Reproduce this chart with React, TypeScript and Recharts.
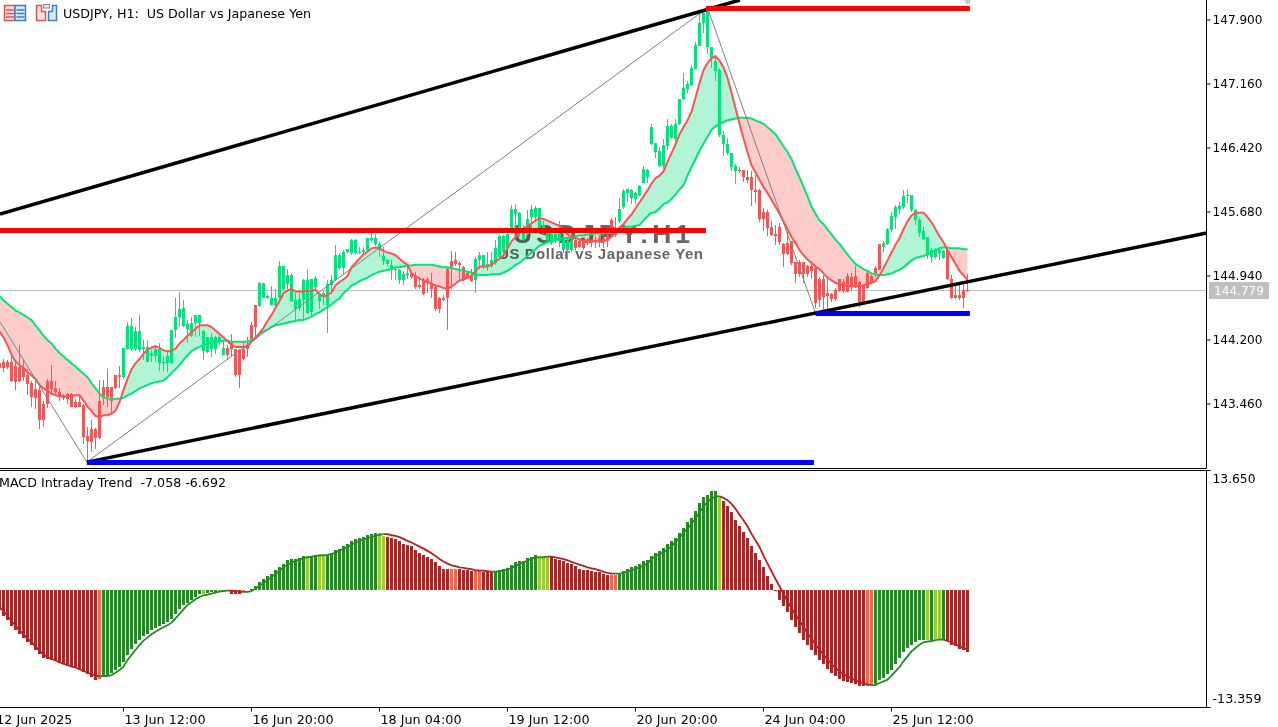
import { Area, Bar, Cell, ComposedChart, Line, ReferenceDot, ReferenceLine, XAxis, YAxis } from 'recharts';

// high, body top, body bottom, low for every H1 bar on screen
const candles: number[][] = [
  [144.00,143.93,143.88,143.83],[143.98,143.95,143.88,143.83],[143.97,143.94,143.89,143.87],[144.03,143.94,143.73,143.71],
  [143.97,143.90,143.71,143.62],[144.14,143.89,143.72,143.71],[143.97,143.88,143.77,143.73],[143.87,143.79,143.69,143.56],
  [143.73,143.70,143.54,143.43],[143.73,143.63,143.53,143.40],[143.66,143.62,143.27,143.17],[143.50,143.46,143.27,143.19],
  [143.75,143.73,143.46,143.41],[143.91,143.73,143.63,143.56],[143.73,143.65,143.60,143.56],[143.64,143.60,143.54,143.50],
  [143.58,143.55,143.53,143.51],[143.59,143.57,143.52,143.46],[143.59,143.57,143.43,143.43],[143.52,143.48,143.42,143.41],
  [143.56,143.48,143.43,143.42],[143.46,143.45,143.08,143.00],[143.19,143.09,143.03,142.79],[143.27,143.17,143.02,142.90],
  [143.18,143.17,143.07,142.94],[143.74,143.50,143.07,143.06],[143.74,143.66,143.53,143.45],[143.87,143.66,143.54,143.43],
  [143.66,143.66,143.50,143.35],[143.79,143.79,143.64,143.63],[143.90,143.79,143.77,143.64],[144.11,144.11,143.77,143.75],
  [144.41,144.36,144.10,144.08],[144.45,144.36,144.10,144.07],[144.35,144.30,144.10,144.07],[144.49,144.30,144.08,144.06],
  [144.20,144.12,144.10,143.97],[144.20,144.12,143.95,143.95],[144.08,144.05,144.02,143.95],[144.14,144.09,144.02,143.95],
  [144.16,144.09,143.93,143.84],[144.02,143.95,143.93,143.84],[144.06,144.02,143.93,143.83],[144.32,144.32,143.93,143.92],
  [144.68,144.47,144.31,144.22],[144.75,144.56,144.47,144.35],[144.66,144.57,144.36,144.35],[144.43,144.38,144.33,144.16],
  [144.47,144.40,144.25,144.23],[144.49,144.49,144.40,144.23],[144.49,144.49,144.40,144.25],[144.31,144.30,144.07,143.97],
  [144.23,144.23,144.06,144.05],[144.28,144.23,144.10,144.00],[144.25,144.24,144.10,144.04],[144.27,144.24,144.18,144.14],
  [144.20,144.11,144.03,144.03],[144.14,144.11,144.03,143.97],[144.27,144.18,144.10,144.02],[144.10,144.10,143.79,143.77],
  [144.10,144.08,143.79,143.65],[144.18,144.10,143.98,143.97],[144.23,144.14,144.10,144.00],
  [144.41,144.37,144.20,144.19],[144.60,144.60,144.35,144.22],[144.87,144.86,144.59,144.58],[144.86,144.86,144.69,144.68],
  [144.72,144.71,144.68,144.67],[144.82,144.69,144.61,144.60],[144.79,144.68,144.61,144.58],[145.11,145.06,144.68,144.66],
  [145.06,145.06,144.79,144.77],[145.02,144.95,144.85,144.75],[144.97,144.95,144.65,144.64],[144.74,144.66,144.56,144.41],
  [144.74,144.67,144.57,144.54],[144.90,144.89,144.66,144.43],[145.02,144.89,144.51,144.50],[144.91,144.90,144.52,144.47],
  [144.94,144.92,144.81,144.79],[144.72,144.72,144.65,144.56],[144.77,144.74,144.70,144.60],[144.89,144.85,144.60,144.28],
  [144.95,144.89,144.83,144.73],[145.30,145.18,144.89,144.88],[145.20,145.18,145.03,145.01],[145.24,145.22,145.03,144.95],
  [145.25,145.25,145.22,145.21],[145.37,145.36,145.20,145.18],[145.37,145.36,145.21,145.19],[145.27,145.22,145.21,145.19],
  [145.27,145.24,145.22,145.18],[145.38,145.38,145.24,145.22],[145.44,145.38,145.36,145.32],[145.43,145.38,145.31,145.29],
  [145.33,145.31,145.24,145.16],[145.27,145.17,145.11,145.07],[145.14,145.13,145.08,145.06],[145.13,145.07,145.01,144.89],
  [145.06,145.02,145.01,144.89],[145.02,145.01,144.89,144.85],[145.00,144.96,144.89,144.84],[145.06,144.97,144.95,144.91],
  [145.00,144.97,144.93,144.91],[144.99,144.94,144.81,144.79],[144.93,144.84,144.81,144.79],[144.92,144.88,144.73,144.72],
  [144.93,144.90,144.86,144.74],[144.97,144.86,144.79,144.68],[144.83,144.81,144.56,144.54],[144.70,144.69,144.56,144.51],
  [144.72,144.69,144.66,144.65],[145.04,145.02,144.69,144.31],[145.23,145.11,145.04,144.79],[145.22,145.12,145.08,145.05],
  [145.11,145.09,145.07,144.90],[145.06,145.04,144.89,144.88],[144.99,144.97,144.92,144.90],[145.02,144.95,144.88,144.87],
  [145.16,145.14,144.89,144.74],[145.22,145.18,145.13,145.02],[145.18,145.18,145.04,145.02],[145.22,145.08,145.04,145.00],
  [145.22,145.13,145.05,145.03],[145.36,145.26,145.09,145.07],[145.41,145.40,145.16,145.16],[145.41,145.40,145.22,145.16],
  [145.49,145.43,145.26,145.24],[145.76,145.71,145.47,145.45],[145.77,145.72,145.66,145.45],[145.68,145.67,145.45,145.39],
  [145.53,145.49,145.36,145.34],[145.70,145.60,145.43,145.41],[145.76,145.71,145.62,145.45],[145.75,145.73,145.62,145.59],
  [145.73,145.73,145.51,145.45],[145.57,145.53,145.45,145.43],[145.49,145.45,145.36,145.34],[145.45,145.42,145.32,145.30],
  [145.44,145.42,145.34,145.32],[145.57,145.45,145.34,145.28],[145.43,145.36,145.24,145.20],[145.37,145.35,145.24,145.12],
  [145.37,145.34,145.24,145.22],[145.41,145.36,145.26,145.24],[145.36,145.34,145.28,145.26],[145.36,145.34,145.26,145.24],
  [145.38,145.36,145.32,145.30],[145.36,145.35,145.32,145.28],[145.40,145.36,145.33,145.26],[145.41,145.38,145.33,145.28],
  [145.41,145.37,145.33,145.26],[145.45,145.41,145.34,145.28],[145.61,145.59,145.43,145.39],[145.62,145.48,145.41,145.39],
  [145.84,145.72,145.57,145.55],[145.94,145.92,145.74,145.72],[145.95,145.94,145.90,145.80],[145.95,145.93,145.84,145.77],
  [145.91,145.90,145.83,145.77],[145.99,145.98,145.88,145.86],[146.21,146.18,146.02,146.01],[146.18,146.17,146.08,146.01],
  [146.70,146.66,146.47,146.45],[146.48,146.48,146.37,146.30],[146.43,146.38,146.21,146.20],[146.52,146.45,146.21,146.18],
  [146.76,146.67,146.44,146.40],[146.70,146.67,146.54,146.52],[146.76,146.70,146.52,146.49],
  [146.99,146.99,146.70,146.68],[147.29,147.11,146.99,146.97],[147.20,147.16,147.10,147.05],[147.38,147.34,147.15,147.14],
  [147.64,147.61,147.33,147.33],[147.98,147.87,147.60,147.60],[148.00,147.98,147.87,147.75],[148.01,148.00,147.59,147.51],
  [147.59,147.59,147.46,147.34],[147.49,147.43,147.31,147.19],[147.34,147.32,146.57,146.55],[146.62,146.57,146.47,146.33],
  [146.53,146.47,146.36,146.34],[146.36,146.36,146.20,146.15],[146.24,146.21,146.15,146.00],[146.20,146.16,146.15,146.13],
  [146.16,146.16,146.08,146.03],[146.16,146.08,146.05,146.02],[146.15,146.08,145.93,145.75],[146.11,145.93,145.91,145.78],
  [145.95,145.93,145.60,145.56],[145.73,145.68,145.60,145.46],[145.70,145.68,145.50,145.40],[145.57,145.51,145.41,145.40],
  [145.53,145.42,145.40,145.30],[145.55,145.51,145.33,145.30],[145.32,145.31,145.19,145.04],[145.45,145.32,145.19,145.18],
  [145.35,145.34,145.09,145.07],[145.10,145.10,144.96,144.86],[145.12,145.10,144.96,144.93],[145.10,145.10,144.96,144.86],
  [145.07,145.06,144.96,144.93],[145.11,145.06,145.00,144.91],[145.07,145.03,144.63,144.57],[144.93,144.90,144.66,144.58],
  [144.95,144.91,144.70,144.55],[144.91,144.74,144.71,144.55],[144.74,144.73,144.67,144.64],[144.80,144.78,144.67,144.65],
  [144.91,144.90,144.77,144.76],[144.91,144.87,144.77,144.74],[144.97,144.94,144.76,144.76],[144.97,144.93,144.82,144.77],
  [145.05,144.94,144.82,144.80],[144.88,144.87,144.64,144.58],[144.84,144.84,144.64,144.63],[144.99,144.97,144.80,144.79],
  [144.97,144.94,144.86,144.85],[145.05,145.03,144.95,144.93],[145.31,145.31,145.01,145.01],[145.35,145.32,145.28,145.22],
  [145.50,145.48,145.31,145.30],[145.68,145.63,145.47,145.45],[145.76,145.74,145.62,145.48],[145.80,145.75,145.72,145.66],
  [145.93,145.86,145.74,145.72],[145.95,145.88,145.86,145.78],[145.88,145.88,145.70,145.68],[145.72,145.70,145.59,145.53],
  [145.61,145.59,145.44,145.39],[145.51,145.46,145.37,145.36],[145.39,145.39,145.19,145.14],[145.26,145.24,145.16,145.09],
  [145.26,145.25,145.16,145.14],[145.26,145.24,145.20,145.12],[145.24,145.23,145.15,145.14],[145.26,145.24,144.91,144.89],
  [144.95,144.91,144.68,144.67],[144.84,144.72,144.68,144.67],[144.84,144.72,144.68,144.66],[144.84,144.78,144.68,144.57],
  [144.96,144.78,144.77,144.76],
];

const fastMa = [
  144.30,144.23,144.14,144.03,143.95,143.91,143.88,143.83,143.79,143.75,143.68,143.64,143.61,143.58,143.56,143.55,143.55,143.55,143.55,143.56,143.56,
  143.50,143.43,143.38,143.32,143.31,143.33,143.33,143.35,143.38,143.48,143.62,143.75,143.86,143.93,143.98,144.04,144.09,144.11,144.13,144.11,144.08,
  144.07,144.07,144.10,144.16,144.20,144.25,144.29,144.33,144.37,144.37,144.37,144.35,144.31,144.27,144.23,144.19,144.14,144.12,144.12,144.12,144.12,
  144.18,144.22,144.28,144.34,144.42,144.49,144.57,144.65,144.74,144.77,144.79,144.76,144.76,144.76,144.77,144.77,144.78,144.73,144.70,144.72,
  144.75,144.83,144.87,144.90,144.94,145.04,145.09,145.14,145.19,145.22,145.26,145.27,145.26,145.23,145.21,145.20,145.18,145.14,145.10,145.07,
  144.97,144.94,144.91,144.89,144.87,144.85,144.83,144.82,144.80,144.79,144.82,144.85,144.89,144.90,144.92,144.94,144.99,145.05,145.05,145.05,
  145.07,145.11,145.14,145.18,145.26,145.34,145.39,145.45,145.49,145.52,145.55,145.58,145.61,145.60,145.58,145.56,145.54,145.52,145.47,145.42,145.39,
  145.38,145.36,145.35,145.35,145.35,145.34,145.34,145.34,145.36,145.39,145.44,145.50,145.54,145.60,145.65,145.72,145.79,145.86,145.93,146.01,146.07,146.10,146.15,
  146.26,146.36,146.46,146.58,146.66,146.74,146.84,147.00,147.17,147.32,147.40,147.46,147.48,147.43,147.35,147.23,147.06,146.88,146.70,146.53,
  146.37,146.22,146.14,146.05,145.97,145.90,145.82,145.74,145.66,145.57,145.48,145.39,145.32,145.24,145.18,145.13,145.09,145.05,145.02,
  144.97,144.92,144.89,144.86,144.84,144.83,144.82,144.82,144.82,144.82,144.83,144.85,144.86,144.88,144.95,145.03,145.12,145.21,145.30,145.38,
  145.48,145.57,145.64,145.67,145.67,145.67,145.62,145.56,145.48,145.40,145.33,145.24,145.16,145.08,145.00,144.95,144.89,
];

const slowMa = [
  144.71,144.66,144.62,144.58,144.54,144.52,144.49,144.46,144.43,144.37,144.31,144.25,144.20,144.16,144.10,144.05,144.01,143.97,143.93,143.89,143.85,
  143.81,143.77,143.70,143.64,143.58,143.54,143.52,143.52,143.52,143.52,143.53,143.56,143.58,143.61,143.64,143.66,143.68,143.70,143.71,143.72,143.73,
  143.77,143.82,143.86,143.91,143.97,144.02,144.07,144.10,144.12,144.14,144.16,144.17,144.18,144.18,144.19,144.19,144.18,144.18,144.18,144.18,144.18,
  144.20,144.23,144.27,144.30,144.32,144.35,144.37,144.38,144.39,144.40,144.41,144.42,144.43,144.43,144.45,144.47,144.50,144.52,144.55,144.58,
  144.61,144.65,144.68,144.74,144.78,144.83,144.85,144.88,144.90,144.92,144.95,144.97,144.99,145.00,145.01,145.02,145.04,145.04,145.05,145.06,
  145.06,145.07,145.07,145.07,145.07,145.07,145.06,145.05,145.04,145.04,145.03,145.02,145.01,145.00,144.99,144.98,144.96,144.95,144.95,144.95,
  144.96,144.96,144.96,144.98,145.00,145.03,145.07,145.09,145.13,145.17,145.21,145.25,145.29,145.31,145.33,145.35,145.36,145.37,145.38,145.38,145.38,
  145.40,145.41,145.41,145.42,145.42,145.43,145.43,145.43,145.44,145.46,145.47,145.48,145.50,145.51,145.51,145.52,145.53,145.58,145.63,145.67,145.68,145.72,145.77,
  145.79,145.83,145.88,145.94,145.99,146.10,146.20,146.29,146.39,146.47,146.55,146.63,146.67,146.70,146.72,146.74,146.75,146.76,146.77,146.77,
  146.77,146.76,146.74,146.72,146.70,146.66,146.62,146.58,146.51,146.44,146.37,146.29,146.18,146.08,145.97,145.86,145.74,145.66,145.58,
  145.54,145.48,145.42,145.36,145.31,145.25,145.19,145.13,145.08,145.05,145.02,145.00,144.97,144.96,144.95,144.95,144.96,144.97,144.99,145.01,
  145.04,145.08,145.12,145.15,145.16,145.17,145.19,145.21,145.24,145.26,145.27,145.27,145.26,145.26,145.26,145.25,145.25,
];

const macdHist = [
  -2.28,-2.93,-3.42,-4.07,-4.56,-5.02,-5.44,-5.86,-6.27,-6.77,-7.30,-7.68,-7.83,-7.98,-8.10,-8.29,-8.44,-8.59,-8.71,-8.82,-9.05,-9.28,-9.58,-9.89,-10.27,-10.15,
  -9.81,-9.73,-9.43,-9.05,-8.75,-8.17,-7.41,-6.73,-6.08,-5.70,-5.21,-4.94,-4.56,-4.26,-4.07,-3.88,-3.61,-3.23,-2.66,-2.17,-1.71,-1.41,-1.06,-0.76,-0.46,
  -0.38,-0.30,-0.23,-0.15,-0.08,-0.04,-0.02,-0.38,-0.46,-0.38,-0.23,0.08,0.15,0.46,0.95,1.33,1.67,1.90,2.28,2.66,3.04,3.42,3.54,3.57,3.73,3.88,3.88,3.95,4.07,4.11,4.03,4.07,
  4.26,4.60,4.71,5.06,5.29,5.67,5.86,5.97,6.08,6.31,6.43,6.54,6.54,6.24,6.10,6.01,5.89,5.59,5.32,5.21,5.02,4.64,4.30,4.03,3.80,3.57,3.19,2.81,2.47,2.47,2.47,2.47,
  2.43,2.36,2.28,2.17,2.17,2.17,2.13,2.05,2.05,2.13,2.32,2.43,2.59,2.89,3.23,3.38,3.35,3.73,3.80,4.07,3.95,3.88,3.80,3.80,3.57,3.42,3.31,3.08,3.00,2.74,2.47,2.36,2.28,2.21,2.13,2.05,1.83,1.79,1.79,1.79,
  1.90,2.24,2.47,2.70,2.81,3.04,3.38,3.50,3.95,4.30,4.52,4.87,5.29,5.67,6.01,6.54,7.15,7.79,8.29,9.01,9.92,10.68,10.91,11.37,11.37,10.61,
  10.23,9.58,8.94,8.06,7.30,6.62,5.97,5.10,4.30,3.50,2.62,1.67,0.72,-0.11,-1.06,-1.83,-2.51,-3.42,-4.22,-4.87,-5.63,-6.20,-6.77,-7.34,-7.91,-8.40,-8.94,-9.43,-9.81,-10.11,-10.34,-10.49,-10.57,-10.68,-10.95,-10.95,-10.95,-10.80,
  -10.65,-10.27,-10.00,-9.51,-9.05,-8.40,-7.72,-7.08,-6.58,-6.20,-5.89,-5.70,-5.63,-5.63,-5.63,-5.59,-5.59,-5.63,-5.82,-6.20,-6.39,-6.69,-6.84,-7.058,
];

const macdSignal = [
  -1.9,-2.4,-2.9,-3.5,-4.0,-4.6,-5.0,-5.5,-5.9,-6.4,-6.9,-7.3,-7.6,-7.8,-8.0,-8.2,-8.4,-8.5,-8.7,-8.8,-9.0,-9.2,-9.4,-9.6,-9.7,-9.8,
  -9.77,-9.77,-9.66,-9.39,-9.09,-8.71,-7.95,-7.38,-6.81,-6.24,-5.74,-5.40,-5.02,-4.72,-4.45,-4.22,-3.99,-3.69,-3.19,-2.70,-2.17,-1.67,-1.37,-1.03,-0.76,
  -0.57,-0.49,-0.38,-0.27,-0.15,-0.08,-0.04,-0.04,-0.11,-0.19,-0.19,-0.19,-0.11,0.19,0.53,0.80,1.18,1.48,1.86,2.21,2.59,2.89,3.16,3.35,3.50,3.65,3.76,3.84,3.92,3.95,3.99,4.03,
  4.14,4.26,4.52,4.71,4.94,5.17,5.44,5.63,5.78,5.93,6.08,6.20,6.31,6.39,6.39,6.27,6.20,6.05,5.86,5.63,5.44,5.21,4.98,4.75,4.49,4.22,3.92,3.57,3.27,3.04,2.85,2.74,
  2.62,2.55,2.47,2.40,2.28,2.24,2.24,2.17,2.13,2.13,2.17,2.24,2.36,2.55,2.78,3.00,3.19,3.38,3.57,3.76,3.76,3.76,3.84,3.84,3.76,3.65,3.54,3.42,3.23,3.08,2.93,2.78,2.62,2.51,2.40,2.28,2.09,1.98,1.90,1.90,
  1.90,1.98,2.13,2.28,2.43,2.62,2.81,3.04,3.57,3.88,4.11,4.33,4.64,5.02,5.48,5.97,6.54,7.03,7.57,8.17,8.86,9.58,10.04,10.46,10.68,10.72,
  10.53,10.27,9.85,9.28,8.62,7.98,7.30,6.43,5.70,4.94,3.95,3.04,2.17,1.29,0.46,-0.38,-1.25,-2.02,-2.78,-3.46,-4.18,-4.87,-5.51,-6.20,-6.77,-7.34,-7.91,-8.40,-8.86,-9.24,-9.54,-9.81,-10.04,-10.27,-10.46,-10.57,-10.72,-10.80,
  -10.80,-10.57,-10.38,-10.19,-9.73,-9.24,-8.75,-8.10,-7.53,-6.96,-6.58,-6.20,-5.93,-5.85,-5.78,-5.67,-5.59,-5.63,-5.78,-5.93,-6.16,-6.39,-6.62,-6.692,
];

// colour runs of the histogram: r falling, o turning, g rising, y pausing
const histRuns: [string, number][] = [
  ['r',25],['o',1],['g',25],['y',1],['g',3],['y',2],['g',1],['r',3],['o',1],['g',15],['y',1],['g',2],['y',2],['g',13],['y',2],['r',16],['o',2],['r',4],['o',2],['r',3],
  ['g',11],['y',3],['r',15],['o',2],['g',25],['y',1],['r',36],['o',2],['g',13],['y',1],['g',1],['y',2],['g',1],['r',6],
];

const priceTicks = [147.9, 147.16, 146.42, 145.68, 144.94, 144.2, 143.46];
const macdTicks = [13.65, -13.359];
const timeTicks = [0, 31, 63, 95, 127, 159, 191, 223];
const timeLabels = ['12 Jun 2025', '13 Jun 12:00', '16 Jun 20:00', '18 Jun 04:00', '19 Jun 12:00', '20 Jun 20:00', '24 Jun 04:00', '25 Jun 12:00'];
const lastPrice = 144.772;
const lastPriceLabel = '144.779';

// analysis objects, given as bar index and price
const blackLines = [
  [{ x: 0.125, y: 145.657 }, { x: 185.1, y: 148.131 }],
  [{ x: 21.85, y: 142.788 }, { x: 301.75, y: 145.437 }],
];
const redLevels = [
  [{ x: 0.125, y: 145.466 }, { x: 176.6, y: 145.466 }],
  [{ x: 176.6, y: 148.033 }, { x: 242.6, y: 148.033 }],
];
const blueLevels = [
  [{ x: 21.85, y: 142.783 }, { x: 203.6, y: 142.783 }],
  [{ x: 204, y: 144.506 }, { x: 242.6, y: 144.506 }],
];
const zigzag = [
  [{ x: 0.125, y: 144.408 }, { x: 21.85, y: 142.788 }],
  [{ x: 21.85, y: 142.788 }, { x: 177, y: 148.04 }],
  [{ x: 177, y: 148.04 }, { x: 204, y: 144.51 }],
];

const BULL = '#00E676';
const BEAR = '#FF5252';
const FONT = '"DejaVu Sans", sans-serif';
const histColors: Record<string, string> = { r: '#B22222', o: '#FF6347', g: '#228B22', y: '#9ACD32' };
const PRICE_DOMAIN = [142.714, 148.131];
const BAR_DOMAIN = [0.125, 301.75];

const histTones = histRuns.flatMap(([tone, count]) => Array(count).fill(tone) as string[]);
const isGreenTone = (tone?: string) => tone === 'g' || tone === 'y';

const rows = candles.map(([high, top, bottom, low], i) => ({
  i,
  high,
  top,
  bottom,
  low,
  fast: fastMa[i],
  slow: slowMa[i],
  hist: macdHist[i],
  signalGreen: isGreenTone(histTones[i]) || isGreenTone(histTones[i + 1]) ? macdSignal[i] : null,
  signalRed: !isGreenTone(histTones[i]) || !isGreenTone(histTones[i + 1] ?? histTones[i]) ? macdSignal[i] : null,
}));

function CandleShape(props: any) {
  const { x, y, width, height, payload } = props;
  const perUnit = height / (payload.high - payload.low);
  const bodyY = y + (payload.high - payload.top) * perUnit;
  const bodyH = Math.max(1, (payload.top - payload.bottom) * perUnit);
  const fill = payload.fast > payload.slow ? BULL : BEAR;
  return (
    <g shapeRendering="crispEdges">
      <rect x={x + width / 2 - 0.5} y={y} width={1} height={height} fill={fill} />
      <rect x={x} y={bodyY} width={width} height={bodyH} fill={fill} />
    </g>
  );
}

function PriceTick({ x, y, payload }: any) {
  return (
    <text x={x} y={y + 4.5} fontFamily={FONT} fontSize={11.5} fill="#000" textLength={50} lengthAdjust="spacingAndGlyphs">
      {payload.value.toFixed(3)}
    </text>
  );
}

function MacdTick({ x, y, payload }: any) {
  const shift = payload.value > 0 ? 8.5 : -8.5;
  return (
    <text x={x} y={y + shift + 4} fontFamily={FONT} fontSize={11.5} fill="#000" textLength={payload.value > 0 ? 43 : 49} lengthAdjust="spacingAndGlyphs">
      {payload.value.toFixed(3)}
    </text>
  );
}

function TimeTick({ x, y, payload }: any) {
  const first = payload.value === 0;
  return (
    <text x={first ? x - 3.2 : x + 1} y={y + 10.5} fontFamily={FONT} fontSize={11.5} fill="#000" textLength={first ? 76 : 81} lengthAdjust="spacingAndGlyphs">
      {timeLabels[timeTicks.indexOf(payload.value)]}
    </text>
  );
}

function Header() {
  return (
    <svg width={1278} height={727} style={{ position: 'absolute', left: 0, top: 0 }}>
      <g fill="none" strokeWidth={1.5}>
        <rect x={4.5} y={5.5} width={10.5} height={15} fill="#FBE3E0" stroke="#E0504D" />
        <rect x={15} y={5.5} width={10.5} height={15} fill="#DDEBF7" stroke="#3B7FC4" />
        <path d="M6 10h8M6 13.5h8M6 17h8" stroke="#E0504D" />
        <path d="M16.5 10h8M16.5 13.5h8M16.5 17h8" stroke="#3B7FC4" />
        <path d="M36.5 5.5h5v6h4v9h-9z" fill="#FBE3E0" stroke="#E0504D" />
        <path d="M56.5 5.5h-4v6h-4v9h8z" fill="#DDEBF7" stroke="#3B7FC4" />
        <rect x={43.5} y={4.5} width={6} height={3.5} fill="#E8E8E8" stroke="#8A8A8A" strokeWidth={1} />
      </g>
      <text x={63} y={18} fontFamily={FONT} fontSize={12} fill="#000" textLength={248} lengthAdjust="spacingAndGlyphs" style={{ whiteSpace: 'pre' }}>
        USDJPY, H1:  US Dollar vs Japanese Yen
      </text>
      <text x={-1} y={487} fontFamily={FONT} fontSize={12} fill="#000" textLength={227} lengthAdjust="spacingAndGlyphs" style={{ whiteSpace: 'pre' }}>
        MACD Intraday Trend  -7.058 -6.692
      </text>
      <rect x={1209} y={282} width={60} height={17} fill="#C0C0C0" />
      <text x={1214} y={295} fontFamily={FONT} fontSize={11.5} fill="#FFFFFF" textLength={50} lengthAdjust="spacingAndGlyphs">
        {lastPriceLabel}
      </text>
    </svg>
  );
}

// the symbol watermark sits over the MA filling but under candles and lines
function Watermark() {
  return (
    <svg width={1278} height={470} style={{ position: 'absolute', left: 0, top: 0, mixBlendMode: 'multiply' }}>
      <text x={513} y={243} fontFamily='"Liberation Sans", Arial, sans-serif' fontWeight={700} fontSize={26.5} fill="#666666" textLength={177} lengthAdjust="spacing">
        USDJPY:H1
      </text>
      <text x={498} y={258.5} fontFamily='"Liberation Sans", Arial, sans-serif' fontWeight={700} fontSize={15} fill="#666666" textLength={205} lengthAdjust="spacing">
        US Dollar vs Japanese Yen
      </text>
    </svg>
  );
}

export default function App() {
  return (
    <div style={{ position: 'fixed', left: 0, top: 0, width: 1278, height: 727, overflow: 'hidden', background: '#fff' }}>
      <Header />
      <div style={{ position: 'absolute', left: 0, top: 0 }}>
        <ComposedChart width={1277.5} height={468.5} data={rows} margin={{ top: 0, right: 71, bottom: 0, left: 0 }}>
          <XAxis dataKey="i" type="number" domain={BAR_DOMAIN} allowDataOverflow hide />
          <YAxis domain={PRICE_DOMAIN} allowDataOverflow hide />
          <ReferenceLine y={lastPrice} stroke="#C0C0C0" strokeWidth={1} />
          <Area
            dataKey={(d: any) => [d.slow, Math.max(d.fast, d.slow)]}
            stroke="none"
            fill="#B2F5D6"
            fillOpacity={1}
            isAnimationActive={false}
            dot={false}
            activeDot={false}
          />
          <Area
            dataKey={(d: any) => [d.fast, Math.max(d.fast, d.slow)]}
            stroke="none"
            fill="#FFCCCC"
            fillOpacity={1}
            isAnimationActive={false}
            dot={false}
            activeDot={false}
          />
        </ComposedChart>
      </div>
      <Watermark />
      <div style={{ position: 'absolute', left: 0, top: 0 }}>
        <ComposedChart width={1277.5} height={468.5} data={rows} margin={{ top: 0, right: 0, bottom: 0, left: 0 }}>
          <XAxis dataKey="i" type="number" domain={BAR_DOMAIN} allowDataOverflow height={0} tick={false} tickLine={false} axisLine={false} />
          <YAxis
            orientation="right"
            width={71}
            domain={PRICE_DOMAIN}
            allowDataOverflow
            ticks={priceTicks}
            interval={0}
            tickSize={4}
            tickMargin={2}
            tick={PriceTick}
            axisLine={{ stroke: '#000' }}
            tickLine={{ stroke: '#000' }}
          />
          <Bar dataKey={(d: any) => [d.low, d.high]} barSize={3} shape={CandleShape} isAnimationActive={false} />
          <Line dataKey="slow" stroke={BULL} strokeWidth={2} dot={false} activeDot={false} isAnimationActive={false} />
          <Line dataKey="fast" stroke={BEAR} strokeWidth={2} dot={false} activeDot={false} isAnimationActive={false} />
          {zigzag.map((segment, n) => (
            <ReferenceLine key={`zig${n}`} segment={segment} stroke="#808080" strokeWidth={1} ifOverflow="visible" />
          ))}
          {blackLines.map((segment, n) => (
            <ReferenceLine key={`black${n}`} segment={segment} stroke="#000" strokeWidth={3.5} ifOverflow="visible" />
          ))}
          {redLevels.map((segment, n) => (
            <ReferenceLine key={`red${n}`} segment={segment} stroke="#FF0000" strokeWidth={5} ifOverflow="visible" />
          ))}
          {blueLevels.map((segment, n) => (
            <ReferenceLine key={`blue${n}`} segment={segment} stroke="#0000FF" strokeWidth={5} ifOverflow="visible" />
          ))}
          <ReferenceDot x={242} y={148.12} r={3} fill="#C8C8C8" stroke="none" ifOverflow="visible" />
          <ReferenceLine y={142.714} stroke="#000" strokeWidth={1} ifOverflow="visible" />
        </ComposedChart>
      </div>
      <div style={{ position: 'absolute', left: 0, top: 470 }}>
        <ComposedChart width={1277.5} height={257} data={rows} margin={{ top: 0.5, right: 0, bottom: 0, left: 0 }}>
          <XAxis
            dataKey="i"
            type="number"
            domain={BAR_DOMAIN}
            allowDataOverflow
            height={19.5}
            ticks={timeTicks}
            interval={0}
            tickSize={4}
            tick={TimeTick}
            axisLine={{ stroke: '#000' }}
            tickLine={{ stroke: '#000' }}
          />
          <YAxis
            orientation="right"
            width={71}
            domain={[-13.359, 13.65]}
            allowDataOverflow
            ticks={macdTicks}
            interval={0}
            tickSize={4}
            tickMargin={2}
            tick={MacdTick}
            axisLine={{ stroke: '#000' }}
            tickLine={{ stroke: '#000' }}
          />
          <ReferenceLine y={13.65} stroke="#000" strokeWidth={1} ifOverflow="visible" />
          <Bar dataKey="hist" barSize={3} isAnimationActive={false} shapeRendering="crispEdges">
            {rows.map((row) => (
              <Cell key={row.i} fill={histColors[histTones[row.i]]} />
            ))}
          </Bar>
          <Line dataKey="signalGreen" stroke="#228B22" strokeWidth={1.8} dot={false} activeDot={false} isAnimationActive={false} />
          <Line dataKey="signalRed" stroke="#B22222" strokeWidth={1.8} dot={false} activeDot={false} isAnimationActive={false} />
        </ComposedChart>
      </div>
    </div>
  );
}
